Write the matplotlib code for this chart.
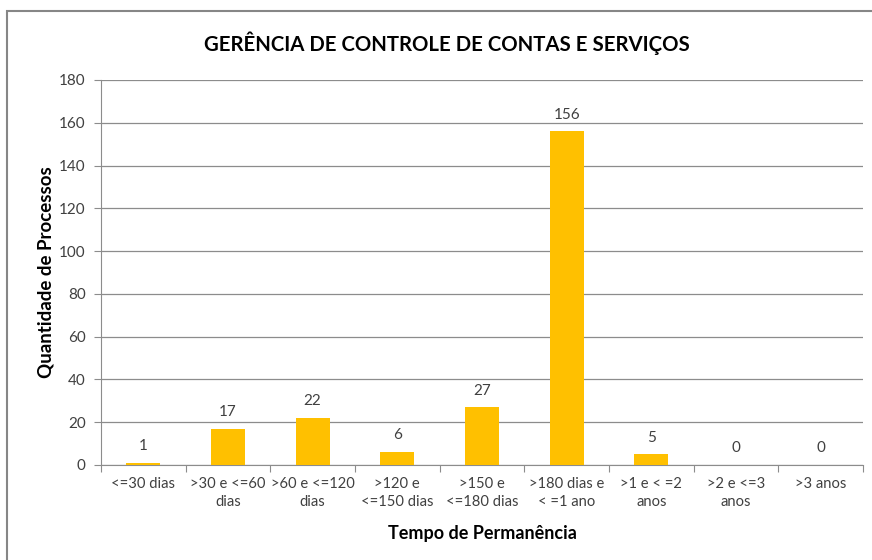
import matplotlib.pyplot as plt
from matplotlib.patches import Rectangle

# Dados do grafico
categorias = ["<=30 dias", ">30 e <=60\ndias", ">60 e <=120\ndias", ">120 e\n<=150 dias",
              ">150 e\n<=180 dias", ">180 dias e\n< =1 ano", ">1 e < =2\nanos",
              ">2 e <=3\nanos", ">3 anos"]
quantidades = [1, 17, 22, 6, 27, 156, 5, 0, 0]
yticks = [0, 20, 40, 60, 80, 100, 120, 140, 160, 180]

plt.rcParams['font.family'] = ['Lato', 'DejaVu Sans']

fig = plt.figure(figsize=(8.72, 5.6), dpi=100)
ax = fig.add_axes([101/872, 95/560, 762/872, 385/560])

x = list(range(len(categorias)))
ax.bar(x, quantidades, width=0.4, color="#FFC000", zorder=3)
for xi, q in zip(x, quantidades):
    ax.annotate(str(q), (xi, q), xytext=(0, 7), textcoords="offset points",
                ha="center", va="bottom", fontsize=11, color="#404040")

ax.set_xlim(-0.5, len(categorias) - 0.5)
ax.set_ylim(0, 180)
ax.set_yticks(yticks)
ax.yaxis.grid(True, color="#8c8c8c", lw=0.9, zorder=0)

# ticks entre categorias, rotulos no centro
ax.set_xticks([i - 0.5 for i in range(len(categorias) + 1)])
ax.set_xticklabels([])
ax.set_xticks(x, minor=True)
ax.set_xticklabels(categorias, minor=True, fontsize=10.6, color="#404040", linespacing=1.3)
ax.tick_params(axis="x", which="minor", length=0, pad=9)
ax.tick_params(axis="x", which="major", length=5, color="#8c8c8c")
ax.tick_params(axis="y", length=5, color="#8c8c8c", labelsize=11, labelcolor="#404040", pad=6)

for s in ["top", "right"]:
    ax.spines[s].set_visible(False)
ax.spines["left"].set_color("#8c8c8c")
ax.spines["bottom"].set_color("#8c8c8c")

ax.set_ylabel("Quantidade de Processos", fontsize=13.5, fontweight="bold", labelpad=3)
ax.set_xlabel("Tempo de Permanência", fontsize=13, fontweight="bold", labelpad=12)
fig.text(447/872, 1 - 43/560, "GERÊNCIA DE CONTROLE DE CONTAS E SERVIÇOS",
         ha="center", va="center", fontsize=14.7, fontweight="bold")

# moldura do grafico
fig.patches.append(Rectangle((7/872, -0.1), 1.0, 1.1 - 11/560, transform=fig.transFigure,
                             fill=False, edgecolor="#868686", lw=1.5))

fig.savefig("out.png", dpi=100)
